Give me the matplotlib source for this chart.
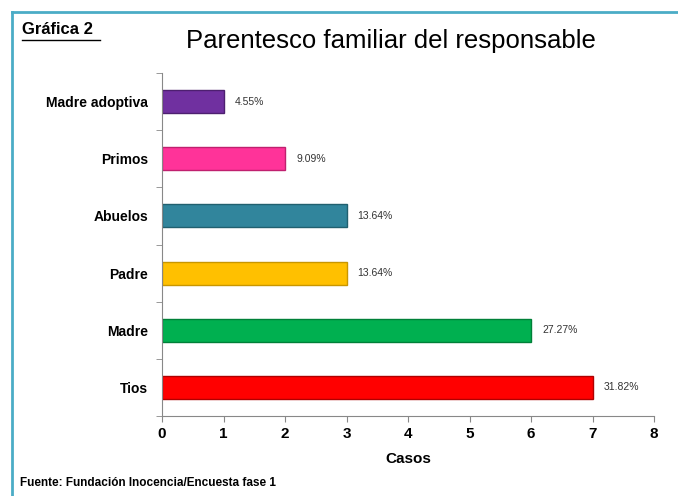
"""Horizontal bar chart: family relationship of the person in charge."""

import numpy as np
import matplotlib.pyplot as plt
from matplotlib.lines import Line2D

# Categories listed bottom to top.
categories = ['Tios', 'Madre', 'Padre', 'Abuelos', 'Primos', 'Madre adoptiva']
cases = [7, 6, 3, 3, 2, 1]
percents = ['31.82%', '27.27%', '13.64%', '13.64%', '9.09%', '4.55%']
colors = ['#ff0000', '#00b050', '#ffc000', '#31859c', '#ff3399', '#7030a0']
edges = ['#b00000', '#008038', '#c89600', '#21606f', '#c0206f', '#4d1f70']

plt.rcParams['font.family'] = ['Liberation Sans', 'DejaVu Sans']

fig = plt.figure(figsize=(6.78, 4.96), dpi=100)
ax = fig.add_axes([162 / 678, 1 - 416 / 496, 492 / 678, 343 / 496])

y = np.arange(len(categories))
ax.barh(y, cases, height=0.4, color=colors, edgecolor=edges, linewidth=1.0)

for yi, val, pct in zip(y, cases, percents):
    ax.annotate(pct, (val, yi), xytext=(8, 0), textcoords='offset points',
                va='center', ha='left', fontsize=7.5, color='#333333')

ax.set_xlim(0, 8)
ax.set_ylim(-0.5, len(categories) - 0.5)
ax.set_xticks(range(9))
ax.set_xticklabels([str(i) for i in range(9)], fontsize=11, fontweight='bold')
ax.set_yticks(y)
ax.set_yticklabels(categories, fontsize=10, fontweight='bold')
ax.set_yticks(np.arange(-0.5, len(categories)), minor=True)
ax.tick_params(axis='y', which='major', length=0, pad=10)
ax.tick_params(axis='y', which='minor', length=4, color='#888888', direction='out')
ax.tick_params(axis='x', length=4, color='#888888', direction='out', pad=4)

for side in ('top', 'right'):
    ax.spines[side].set_visible(False)
for side in ('left', 'bottom'):
    ax.spines[side].set_color('#888888')

ax.set_xlabel('Casos', fontsize=11, fontweight='bold', labelpad=8)

fig.text(186 / 678, 1 - 41 / 496, 'Parentesco familiar del responsable',
         fontsize=18.5, ha='left', va='center')
fig.text(22 / 678, 1 - 30 / 496, 'Gráfica 2', fontsize=12, fontweight='bold',
         ha='left', va='center')
fig.add_artist(Line2D([22 / 678, 100 / 678], [1 - 40 / 496, 1 - 40 / 496],
                      color='black', linewidth=1.0))
fig.text(20 / 678, 1 - 483 / 496, 'Fuente: Fundación Inocencia/Encuesta fase 1',
         fontsize=8.5, fontweight='bold', ha='left', va='center')

# Frame lines along the top and left edges.
fig.add_artist(Line2D([12 / 678, 1], [1 - 12 / 496, 1 - 12 / 496],
                      color='#4bacc6', linewidth=2.0))
fig.add_artist(Line2D([12 / 678, 12 / 678], [0, 1 - 12 / 496],
                      color='#4bacc6', linewidth=2.0))

fig.savefig('out.png', dpi=100)
